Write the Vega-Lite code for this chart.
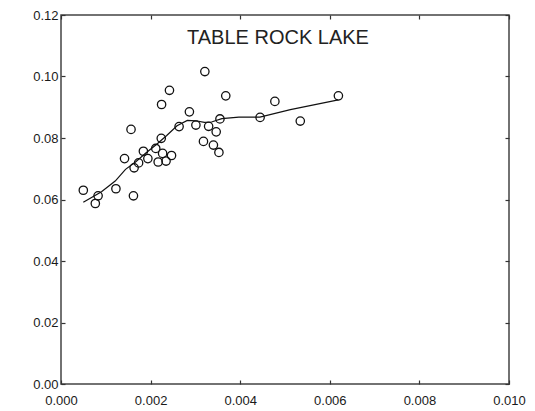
{
  "$schema": "https://vega.github.io/schema/vega-lite/v6.json",
  "width": 448,
  "height": 369,
  "autosize": {"type": "none"},
  "padding": {"left": 61, "top": 15, "right": 26, "bottom": 27},
  "background": "white",
  "title": {
    "text": "TABLE ROCK LAKE",
    "orient": "top",
    "anchor": "middle",
    "baseline": "alphabetic",
    "offset": -31,
    "dy": 24,
    "dx": -7,
    "font": "Liberation Sans",
    "fontSize": 20,
    "fontWeight": "normal",
    "color": "#222222"
  },
  "config": {
    "view": {"stroke": "#444444", "strokeWidth": 1.5},
    "axis": {
      "labelFont": "Liberation Sans",
      "labelFontSize": 13,
      "labelColor": "#1a1a1a",
      "tickColor": "#333333",
      "tickSize": -4,
      "tickWidth": 1.2,
      "domain": false,
      "grid": false,
      "title": null
    }
  },
  "datasets": {
    "pts": [
      {"x": 0.000498, "y": 0.0630},
      {"x": 0.000766, "y": 0.0587},
      {"x": 0.000828, "y": 0.0612},
      {"x": 0.001226, "y": 0.0635},
      {"x": 0.001418, "y": 0.0733},
      {"x": 0.001563, "y": 0.0828},
      {"x": 0.001617, "y": 0.0612},
      {"x": 0.001632, "y": 0.0703},
      {"x": 0.001732, "y": 0.0719},
      {"x": 0.001839, "y": 0.0757},
      {"x": 0.001939, "y": 0.0733},
      {"x": 0.002115, "y": 0.0766},
      {"x": 0.002169, "y": 0.0722},
      {"x": 0.002245, "y": 0.0909},
      {"x": 0.002238, "y": 0.0799},
      {"x": 0.002268, "y": 0.0750},
      {"x": 0.002345, "y": 0.0725},
      {"x": 0.002421, "y": 0.0955},
      {"x": 0.002467, "y": 0.0743},
      {"x": 0.002636, "y": 0.0837},
      {"x": 0.002866, "y": 0.0885},
      {"x": 0.003011, "y": 0.0842},
      {"x": 0.003211, "y": 0.1016},
      {"x": 0.003180, "y": 0.0789},
      {"x": 0.003295, "y": 0.0838},
      {"x": 0.003402, "y": 0.0777},
      {"x": 0.003464, "y": 0.0820},
      {"x": 0.003525, "y": 0.0753},
      {"x": 0.003548, "y": 0.0862},
      {"x": 0.003678, "y": 0.0937},
      {"x": 0.004444, "y": 0.0867},
      {"x": 0.004774, "y": 0.0919},
      {"x": 0.005341, "y": 0.0855},
      {"x": 0.006192, "y": 0.0937}
    ],
    "fit": [
      {"x": 0.000498, "y": 0.0591},
      {"x": 0.000904, "y": 0.0625},
      {"x": 0.00121, "y": 0.0660},
      {"x": 0.00144, "y": 0.0698},
      {"x": 0.00167, "y": 0.0723},
      {"x": 0.0019, "y": 0.0752},
      {"x": 0.00213, "y": 0.0779},
      {"x": 0.00236, "y": 0.0808},
      {"x": 0.00259, "y": 0.0840},
      {"x": 0.00282, "y": 0.0857},
      {"x": 0.00301, "y": 0.0856},
      {"x": 0.0032, "y": 0.0851},
      {"x": 0.00336, "y": 0.0852},
      {"x": 0.00359, "y": 0.0863},
      {"x": 0.00397, "y": 0.0868},
      {"x": 0.00444, "y": 0.0868},
      {"x": 0.00512, "y": 0.0892},
      {"x": 0.00619, "y": 0.0924}
    ]
  },
  "layer": [
    {
      "data": {"name": "fit"},
      "mark": {"type": "line", "color": "#111111", "strokeWidth": 1.2},
      "encoding": {
        "x": {"field": "x", "type": "quantitative",
              "scale": {"domain": [0, 0.01], "nice": false},
              "axis": {"orient": "bottom", "values": [0, 0.002, 0.004, 0.006, 0.008, 0.01], "format": ".3f", "labelPadding": 14, "labelFlush": false}},
        "y": {"field": "y", "type": "quantitative",
              "scale": {"domain": [0, 0.12], "nice": false, "zero": true},
              "axis": {"orient": "left", "values": [0, 0.02, 0.04, 0.06, 0.08, 0.1, 0.12], "format": ".2f", "labelPadding": 7, "labelFlush": false}}
      }
    },
    {
      "data": {"name": "pts"},
      "mark": {"type": "point", "shape": "circle", "filled": false, "color": "#111111", "size": 70, "strokeWidth": 1.3, "opacity": 1},
      "encoding": {
        "x": {"field": "x", "type": "quantitative",
              "axis": {"orient": "top", "values": [0, 0.002, 0.004, 0.006, 0.008, 0.01], "labels": false}},
        "y": {"field": "y", "type": "quantitative",
              "axis": {"orient": "right", "values": [0, 0.02, 0.04, 0.06, 0.08, 0.1, 0.12], "labels": false}}
      }
    }
  ],
  "resolve": {"axis": {"x": "independent", "y": "independent"}}
}
